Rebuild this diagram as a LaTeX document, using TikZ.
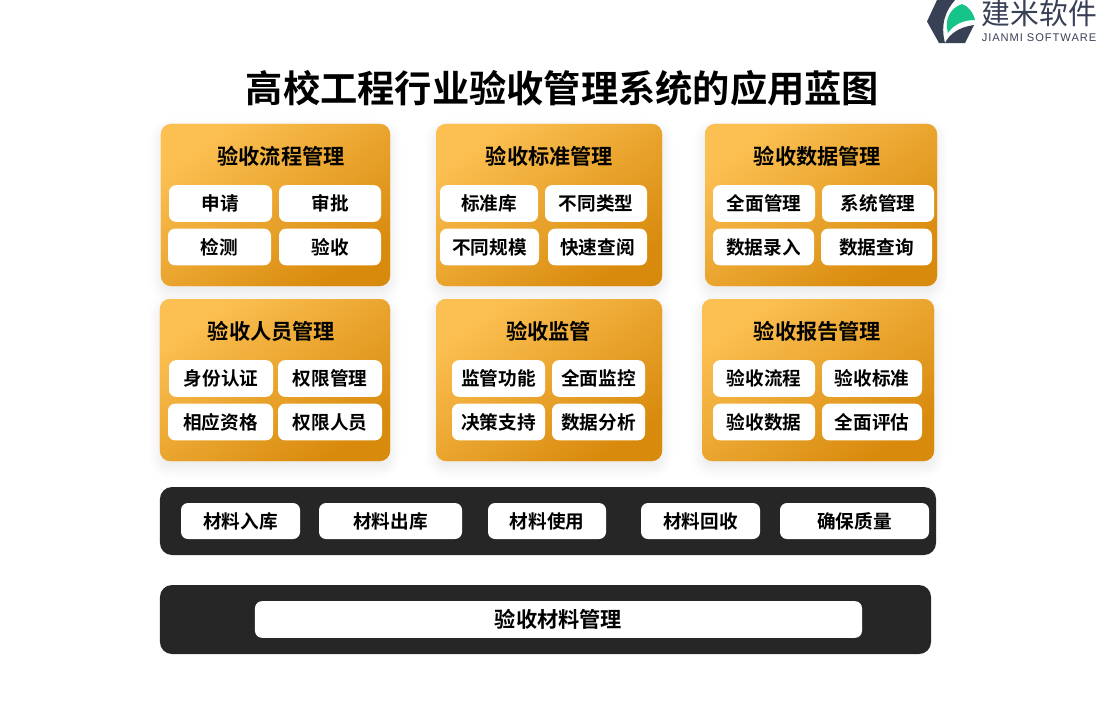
\documentclass[tikz,border=0pt]{standalone}
\usepackage{fontspec}
\setmainfont{Noto Sans CJK SC}[BoldFont={Noto Sans CJK SC Bold}]
\newfontfamily\latinfont[LetterSpace=8.5]{Liberation Sans}
\usetikzlibrary{shadows.blur}
\definecolor{jianmiNavy}{RGB}{56, 64, 86}
\definecolor{jianmiGreen}{RGB}{22, 196, 138}
\definecolor{jianmiOrangeLight}{RGB}{252, 192, 82}
\definecolor{jianmiOrangeDark}{RGB}{216, 138, 12}
\definecolor{jianmiShadow}{RGB}{240, 170, 60}
\definecolor{jianmiDark}{RGB}{38, 38, 38}

\begin{document}
\begin{tikzpicture}[
  x=0.03cm,
  y=-0.03cm,
  panel/.style={
    rounded corners=0.3cm,
    minimum height=4.86cm,
    inner sep=0pt,
    shading=axis,
    top color=jianmiOrangeLight,
    bottom color=jianmiOrangeDark,
    shading angle=35,
    blur shadow={shadow xshift=0pt,shadow yshift=-5pt,shadow blur steps=10,shadow blur radius=10pt,shadow opacity=10,fill=jianmiShadow}
  },
  paneltitle/.style={inner sep=0pt,font=\bfseries\fontsize{18.1}{20}\selectfont},
  cell/.style={
    fill=white,
    rounded corners=0.21cm,
    minimum height=1.1cm,
    inner sep=0pt,
    font=\bfseries\fontsize{15.9}{18}\selectfont
  },
  bar/.style={fill=jianmiDark,rounded corners=0.36cm,inner sep=0pt}
]
  \useasboundingbox (0,0) rectangle (1100,700);

  % logo
  \fill[jianmiNavy] (937,0) -- (955,0) .. controls (946,10) and (940,24) .. (945,43) -- (939,43) -- (927,21.5) -- cycle;
  \fill[jianmiGreen] (948,33) .. controls (944,20) and (950,8) .. (962,4) .. controls (968,6) and (973,12) .. (975,20) .. controls (964,20) and (954,24) .. (948,33) -- cycle;
  \fill[jianmiNavy] (974,25) -- (965,43) -- (945,43) .. controls (950,33) and (960,27) .. (974,25) -- cycle;
  \node[inner sep=0pt,text=jianmiNavy,font=\fontsize{24.6}{28}\selectfont] (logoname) at (1039.5,14) {建米软件};
  \node[inner sep=0pt,text=jianmiNavy,font=\latinfont\fontsize{9.5}{11}\selectfont] (logolatin) at (1039,38) {JIANMI SOFTWARE};

  \node[inner sep=0pt,font=\bfseries\fontsize{31.8}{36}\selectfont] (title) at (562.5,88) {高校工程行业验收管理系统的应用蓝图};

  % first row of panels
  \node[panel,minimum width=6.87cm] (flow) at (275.5,205) {};
  \node[paneltitle] (flowtitle) at (281,156) {验收流程管理};
  \node[cell,minimum width=3.09cm] (apply) at (220.5,203.5) {申请};
  \node[cell,minimum width=3.06cm] (approve) at (330,203.5) {审批};
  \node[cell,minimum width=3.09cm] (inspect) at (219.5,247) {检测};
  \node[cell,minimum width=3.06cm] (accept) at (330,247) {验收};

  \node[panel,minimum width=6.78cm] (standard) at (549,205) {};
  \node[paneltitle] (standardtitle) at (549.5,156) {验收标准管理};
  \node[cell,minimum width=2.94cm] (library) at (489,203.5) {标准库};
  \node[cell,minimum width=3.06cm] (types) at (596,203.5) {不同类型};
  \node[cell,minimum width=2.97cm] (scales) at (489.5,247) {不同规模};
  \node[cell,minimum width=2.97cm] (lookup) at (597.5,247) {快速查阅};

  \node[panel,minimum width=6.96cm] (data) at (821,205) {};
  \node[paneltitle] (datatitle) at (817.5,156) {验收数据管理};
  \node[cell,minimum width=3.06cm] (fullmanage) at (764,203.5) {全面管理};
  \node[cell,minimum width=3.36cm] (sysmanage) at (878,203.5) {系统管理};
  \node[cell,minimum width=3.03cm] (entry) at (763.5,247) {数据录入};
  \node[cell,minimum width=3.33cm] (query) at (876.5,247) {数据查询};

  % second row of panels
  \node[panel,minimum width=6.90cm] (staff) at (275,380) {};
  \node[paneltitle] (stafftitle) at (271.5,331) {验收人员管理};
  \node[cell,minimum width=3.12cm] (identity) at (221,378.5) {身份认证};
  \node[cell,minimum width=3.12cm] (rights) at (330,378.5) {权限管理};
  \node[cell,minimum width=3.15cm] (qualify) at (220.5,422) {相应资格};
  \node[cell,minimum width=3.12cm] (people) at (330,422) {权限人员};

  \node[panel,minimum width=6.78cm] (supervise) at (549,380) {};
  \node[paneltitle] (supervisetitle) at (548.5,331) {验收监管};
  \node[cell,minimum width=2.79cm] (function) at (498.5,378.5) {监管功能};
  \node[cell,minimum width=2.79cm] (monitor) at (598.5,378.5) {全面监控};
  \node[cell,minimum width=2.79cm] (decision) at (498.5,422) {决策支持};
  \node[cell,minimum width=2.79cm] (analyse) at (598.5,422) {数据分析};

  \node[panel,minimum width=6.96cm] (report) at (818,380) {};
  \node[paneltitle] (reporttitle) at (817.5,331) {验收报告管理};
  \node[cell,minimum width=3.06cm] (reportflow) at (764,378.5) {验收流程};
  \node[cell,minimum width=3.00cm] (reportstd) at (872,378.5) {验收标准};
  \node[cell,minimum width=3.06cm] (reportdata) at (764,422) {验收数据};
  \node[cell,minimum width=3.00cm] (assess) at (872,422) {全面评估};

  % dark bars
  \node[bar,minimum width=23.28cm,minimum height=2.04cm] (materialbar) at (548,521) {};
  \node[cell,minimum width=3.57cm,minimum height=1.08cm] (stockin) at (240.5,521) {材料入库};
  \node[cell,minimum width=4.29cm,minimum height=1.08cm] (stockout) at (390.5,521) {材料出库};
  \node[cell,minimum width=3.54cm,minimum height=1.08cm] (use) at (547,521) {材料使用};
  \node[cell,minimum width=3.57cm,minimum height=1.08cm] (recycle) at (700.5,521) {材料回收};
  \node[cell,minimum width=4.47cm,minimum height=1.08cm] (quality) at (854.5,521) {确保质量};

  \node[bar,minimum width=23.13cm,minimum height=2.07cm] (basebar) at (545.5,619.5) {};
  \node[cell,minimum width=18.21cm,font=\bfseries\fontsize{18.1}{20}\selectfont] (material) at (558.5,619.5) {验收材料管理};
\end{tikzpicture}
\end{document}
